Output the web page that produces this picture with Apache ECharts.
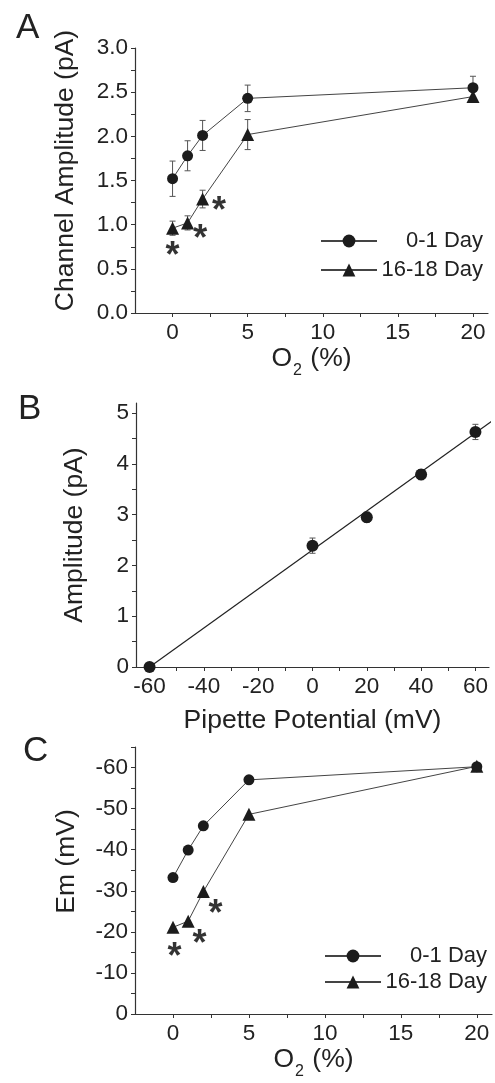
<!DOCTYPE html>
<html><head><meta charset="utf-8">
<script src="https://cdn.jsdelivr.net/npm/echarts@6/dist/echarts.min.js"></script>
<style>html,body{margin:0;padding:0;background:#fff}#c{width:495px;height:1083px}</style>
</head><body><div id="c"></div>
<script>
// ---------- Panel A data ----------
const o2Levels = [0, 1, 2, 5, 20];
const seriesNames = ['0-1 Day', '16-18 Day'];
const ampNewborn = [1.52, 1.78, 2.01, 2.43, 2.55];
const ampNewbornErr = [0.20, 0.17, 0.17, 0.15, 0.13];
const ampAdult = [0.96, 1.02, 1.29, 2.02, 2.45];
const ampAdultErr = [0.08, 0.08, 0.10, 0.17, 0.06];
const ampStarX = [0, 1.85, 3.1];
const ampStarY = [0.72, 0.92, 1.23];
const xTicksO2 = [0, 5, 10, 15, 20];
const yTicksA = [0, 0.5, 1.0, 1.5, 2.0, 2.5, 3.0];
// ---------- Panel B data ----------
const pipettePot = [-60, 0, 20, 40, 60];
const ampB = [0, 2.39, 2.95, 3.79, 4.63];
const ampBErr = [0, 0.15, 0.10, 0.10, 0.15];
const fitX = [-60, 67];
const fitY = [0, 4.88];
const xTicksB = [-60, -40, -20, 0, 20, 40, 60];
const yTicksB = [0, 1, 2, 3, 4, 5];
// ---------- Panel C data ----------
const emNewborn = [-33.2, -39.9, -45.8, -57.0, -60.2];
const emAdult = [-21.1, -22.6, -29.8, -48.6, -60.3];
const emStarX = [0.1, 1.75, 2.8];
const emStarY = [-15.6, -18.8, -26.1];
const yTicksC = [0, -10, -20, -30, -40, -50, -60];

const FONT = '"Liberation Sans", Arial, Helvetica, sans-serif';
const TXT = '#222';
const AX = '#333';
const MARK = '#1c1c1c';
const LINE = '#444';

function steps(a, b, s) { const r = []; const n = Math.round((b - a) / s); for (let i = 0; i <= n; i++) r.push(+(a + i * s).toFixed(6)); return r; }

function valAxis(opts) {
  return {
    type: 'value', gridIndex: opts.grid, min: opts.min, max: opts.max, inverse: !!opts.inverse,
    axisLine: { show: true, onZero: false, lineStyle: { color: AX, width: 1.2 } },
    axisTick: { show: true, inside: false, length: 4, customValues: opts.ticks, lineStyle: { color: AX, width: 1 } },
    axisLabel: { customValues: opts.labels, fontSize: 22.5, color: TXT, fontFamily: FONT, margin: opts.margin || 7,
      formatter: opts.fmt || (v => String(v)) },
    splitLine: { show: false },
    name: opts.name, nameLocation: 'middle', nameGap: opts.nameGap,
    nameTextStyle: Object.assign({ fontSize: 26.5, color: TXT, fontFamily: FONT }, opts.nameStyle || {})
  };
}

function errRender(params, api) {
  const x = api.value(0), lo = api.value(1), hi = api.value(2);
  const p1 = api.coord([x, lo]), p2 = api.coord([x, hi]);
  const w = 3;
  const style = { stroke: '#555', lineWidth: 1 };
  return { type: 'group', children: [
    { type: 'line', shape: { x1: p1[0], y1: p1[1], x2: p2[0], y2: p2[1] }, style },
    { type: 'line', shape: { x1: p1[0] - w, y1: p1[1], x2: p1[0] + w, y2: p1[1] }, style },
    { type: 'line', shape: { x1: p2[0] - w, y1: p2[1], x2: p2[0] + w, y2: p2[1] }, style }
  ] };
}
function errData(xs, ys, es) { return xs.map((x, i) => [x, ys[i] - es[i], ys[i] + es[i]]); }
function pairs(xs, ys) { return xs.map((x, i) => [x, ys[i]]); }

function lineSeries(name, xi, yi, xs, ys, symbol, size) {
  return { type: 'line', name, xAxisIndex: xi, yAxisIndex: yi, data: pairs(xs, ys), symbol, symbolSize: size,
    showAllSymbol: true, lineStyle: { color: LINE, width: 1 }, itemStyle: { color: MARK, opacity: 1 },
    emphasis: { disabled: true }, z: 3 };
}
function starSeries(xi, yi, xs, ys) {
  return { type: 'scatter', xAxisIndex: xi, yAxisIndex: yi, data: pairs(xs, ys), symbolSize: 1,
    itemStyle: { color: 'transparent' }, silent: true, z: 4,
    label: { show: true, position: 'inside', formatter: '*', fontSize: 36, fontWeight: 'bold', color: '#000',
      fontFamily: FONT, offset: [0, 8] } };
}
function errSeries(xi, yi, data) {
  return { type: 'custom', xAxisIndex: xi, yAxisIndex: yi, data, renderItem: errRender, encode: { x: 0, y: [1, 2] }, z: 2, silent: true };
}

const o2Name = '{a|O}{b|2}{a| (%)}';
const o2Rich = { rich: {
  a: { fontSize: 26.5, color: TXT, fontFamily: FONT, verticalAlign: 'top' },
  b: { fontSize: 16, color: TXT, fontFamily: FONT, verticalAlign: 'top', padding: [18, 1, 0, 1] } } };

function legendFor(top, right, gap) {
  return { orient: 'vertical', right, top, itemWidth: 56, itemHeight: 16, itemGap: gap, data: seriesNames,
    selectedMode: false, formatter: n => '{t|' + n + '}',
    textStyle: { rich: { t: { width: 101, align: 'right', fontSize: 22, color: TXT, fontFamily: FONT } } } };
}

const option = {
  animation: false,
  backgroundColor: '#fff',
  title: [
    { text: 'A', left: 11, top: 6, textStyle: { fontSize: 35, fontWeight: 'normal', color: TXT, fontFamily: FONT } },
    { text: 'B', left: 13, top: 387, textStyle: { fontSize: 35, fontWeight: 'normal', color: TXT, fontFamily: FONT } },
    { text: 'C', left: 18, top: 729, textStyle: { fontSize: 35, fontWeight: 'normal', color: TXT, fontFamily: FONT } }
  ],
  legend: [legendFor(225, 7, 7), legendFor(940, 3, 4)],
  grid: [
    { left: 135, top: 48, width: 353, height: 265 },
    { left: 136, top: 403, width: 353, height: 264 },
    { left: 135, top: 747, width: 357, height: 267 }
  ],
  xAxis: [
    valAxis({ grid: 0, min: -2.5, max: 21, ticks: steps(0, 20, 2.5), labels: xTicksO2, name: o2Name, nameGap: 32, nameStyle: o2Rich, margin: 8 }),
    valAxis({ grid: 1, min: -65, max: 65, ticks: steps(-60, 60, 10), labels: xTicksB, name: 'Pipette Potential (mV)', nameGap: 40, margin: 8 }),
    valAxis({ grid: 2, min: -2.5, max: 21, ticks: steps(0, 20, 2.5), labels: xTicksO2, name: o2Name, nameGap: 32, nameStyle: o2Rich, margin: 8 })
  ],
  yAxis: [
    valAxis({ grid: 0, min: 0, max: 3, ticks: steps(0, 3, 0.25), labels: yTicksA, name: 'Channel Amplitude (pA)', nameGap: 56,
      fmt: v => v.toFixed(1), nameStyle: { padding: [0, 0, 0, 20] } }),
    valAxis({ grid: 1, min: 0, max: 5.2, ticks: steps(0, 5, 0.5), labels: yTicksB, name: 'Amplitude (pA)', nameGap: 48 }),
    valAxis({ grid: 2, min: -65, max: 0, inverse: true, ticks: steps(-65, 0, 5), labels: yTicksC, name: 'Em (mV)', nameGap: 55,
      nameStyle: { padding: [0, 0, 0, 38] } })
  ],
  series: [
    errSeries(0, 0, errData(o2Levels, ampNewborn, ampNewbornErr)),
    errSeries(0, 0, errData(o2Levels, ampAdult, ampAdultErr)),
    lineSeries(seriesNames[0], 0, 0, o2Levels, ampNewborn, 'circle', 11),
    lineSeries(seriesNames[1], 0, 0, o2Levels, ampAdult, 'triangle', 13),
    starSeries(0, 0, ampStarX, ampStarY),

    { type: 'line', xAxisIndex: 1, yAxisIndex: 1, data: pairs(fitX, fitY), symbol: 'none', clip: false,
      lineStyle: { color: '#222', width: 1.2 }, silent: true, z: 2 },
    errSeries(1, 1, errData(pipettePot, ampB, ampBErr)),
    { type: 'scatter', xAxisIndex: 1, yAxisIndex: 1, data: pairs(pipettePot, ampB), symbol: 'circle', symbolSize: 12,
      itemStyle: { color: MARK, opacity: 1 }, clip: true, z: 3, emphasis: { disabled: true } },

    lineSeries(seriesNames[0], 2, 2, o2Levels, emNewborn, 'circle', 11),
    lineSeries(seriesNames[1], 2, 2, o2Levels, emAdult, 'triangle', 13),
    starSeries(2, 2, emStarX, emStarY)
  ]
};
const chart = echarts.init(document.getElementById('c'), null, { renderer: 'canvas' });
chart.setOption(option);
</script></body></html>
